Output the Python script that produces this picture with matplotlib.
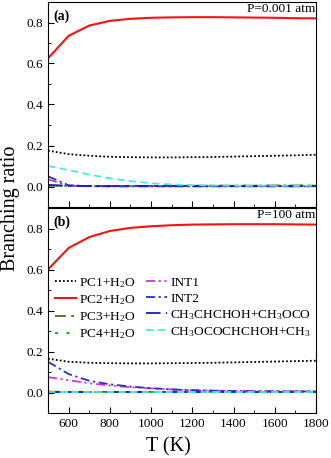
import numpy as np
import matplotlib
matplotlib.use("Agg")
import matplotlib.pyplot as plt
from matplotlib.ticker import MultipleLocator

plt.rcParams['font.family'] = ['Liberation Serif', 'DejaVu Serif']
plt.rcParams['mathtext.fontset'] = 'custom'
plt.rcParams['mathtext.rm'] = 'Liberation Serif'

T = [500, 600, 700, 800, 900, 1000, 1100, 1200, 1300, 1400, 1500, 1600, 1700, 1800]

# panel (a) P = 0.001 atm
a_pc1 = [0.175, 0.158, 0.150, 0.145, 0.143, 0.142, 0.142, 0.143, 0.144, 0.146, 0.148, 0.150, 0.152, 0.155]
a_pc2 = [0.625, 0.735, 0.785, 0.808, 0.818, 0.823, 0.825, 0.826, 0.826, 0.825, 0.824, 0.823, 0.821, 0.820]
a_pc3 = [0.004, 0.003, 0.003, 0.003, 0.003, 0.003, 0.003, 0.003, 0.004, 0.004, 0.004, 0.005, 0.005, 0.005]
a_pc4 = [0.003, 0.003, 0.002, 0.002, 0.002, 0.002, 0.003, 0.003, 0.003, 0.003, 0.004, 0.004, 0.004, 0.004]
a_int1 = [0.035, 0.004, 0.002, 0.001, 0.001, 0.001, 0.001, 0.001, 0.001, 0.001, 0.001, 0.001, 0.001, 0.001]
a_int2 = [0.050, 0.006, 0.002, 0.001, 0.001, 0.001, 0.001, 0.001, 0.001, 0.001, 0.001, 0.001, 0.001, 0.001]
a_ch3chchoh = [0.008, 0.003, 0.002, 0.002, 0.003, 0.003, 0.003, 0.003, 0.003, 0.003, 0.003, 0.003, 0.003, 0.003]
a_ch3ococh = [0.100, 0.080, 0.058, 0.040, 0.026, 0.016, 0.010, 0.007, 0.005, 0.004, 0.004, 0.004, 0.004, 0.004]

# panel (b) P = 100 atm
b_pc1 = [0.165, 0.150, 0.145, 0.143, 0.142, 0.142, 0.143, 0.144, 0.145, 0.147, 0.149, 0.151, 0.153, 0.155]
b_pc2 = [0.600, 0.705, 0.758, 0.788, 0.803, 0.811, 0.816, 0.819, 0.820, 0.821, 0.821, 0.821, 0.820, 0.819]
b_pc3 = [0.004, 0.003, 0.003, 0.003, 0.003, 0.003, 0.003, 0.004, 0.004, 0.004, 0.005, 0.005, 0.005, 0.005]
b_pc4 = [0.003, 0.003, 0.002, 0.002, 0.002, 0.003, 0.003, 0.003, 0.003, 0.003, 0.004, 0.004, 0.004, 0.004]
b_int1 = [0.075, 0.060, 0.045, 0.034, 0.026, 0.020, 0.015, 0.011, 0.009, 0.007, 0.006, 0.005, 0.005, 0.004]
b_int2 = [0.150, 0.090, 0.057, 0.040, 0.029, 0.021, 0.015, 0.011, 0.009, 0.007, 0.006, 0.005, 0.005, 0.005]
b_ch3chchoh = [0.002, 0.002, 0.002, 0.002, 0.002, 0.002, 0.002, 0.002, 0.002, 0.002, 0.002, 0.002, 0.002, 0.002]
b_ch3ococh = [0.001, 0.001, 0.001, 0.001, 0.001, 0.001, 0.001, 0.001, 0.001, 0.001, 0.001, 0.001, 0.001, 0.001]

h2o = r'H$\mathregular{_2}$O'
ch3 = r'CH$\mathregular{_3}$'
labels = ['PC1+' + h2o, 'PC2+' + h2o, 'PC3+' + h2o, 'PC4+' + h2o, 'INT1', 'INT2',
          ch3 + 'CHCHOH+' + ch3 + 'OCO', ch3 + 'OCOCHCHOH+' + ch3]

styles = [
    dict(color='black', ls=(0, (1, 1.2)), lw=1.3),
    dict(color='#ff1010', ls='-', lw=1.5),
    dict(color='#4a6a1a', ls=(0, (6, 3, 1.5, 3)), lw=1.3),
    dict(color='#22bb22', ls=(0, (1.5, 4)), lw=1.5),
    dict(color='#cc33dd', ls=(0, (5, 2, 1.2, 2, 1.2, 2)), lw=1.3),
    dict(color='#2233cc', ls=(0, (5, 2, 1.2, 2)), lw=1.3),
    dict(color='#1a1acc', ls=(0, (8, 3, 2, 3)), lw=1.3),
    dict(color='#44eedd', ls=(0, (4, 2.5)), lw=1.3),
]

panel_a = [a_pc1, a_pc2, a_pc3, a_pc4, a_int1, a_int2, a_ch3chchoh, a_ch3ococh]
panel_b = [b_pc1, b_pc2, b_pc3, b_pc4, b_int1, b_int2, b_ch3chchoh, b_ch3ococh]

fig = plt.figure(figsize=(3.31, 4.58), dpi=100)
ax1 = fig.add_axes([48 / 331, 1 - 207 / 458, 268 / 331, 205 / 458])
ax2 = fig.add_axes([48 / 331, 1 - 413 / 458, 268 / 331, 205 / 458])

for ax, data, tag, pres in [(ax1, panel_a, '(a)', 'P=0.001 atm'), (ax2, panel_b, '(b)', 'P=100 atm')]:
    for ys, lab, st in zip(data, labels, styles):
        ax.plot(T, ys, label=lab, **st)
    ax.set_xlim(500, 1800)
    ax.set_ylim(-0.1, 0.9)
    ax.xaxis.set_major_locator(MultipleLocator(200))
    ax.xaxis.set_minor_locator(MultipleLocator(100))
    ax.yaxis.set_major_locator(MultipleLocator(0.2))
    ax.yaxis.set_minor_locator(MultipleLocator(0.1))
    ax.tick_params(which='both', direction='in', labelsize=9.5)
    ax.tick_params(which='major', length=4)
    ax.tick_params(which='minor', length=2)
    ax.text(0.02, 0.965, tag, transform=ax.transAxes, fontsize=10, fontweight='bold', va='top')
    ax.text(0.998, 0.997, pres, transform=ax.transAxes, fontsize=9.6, ha='right', va='top')
    for s in ax.spines.values():
        s.set_linewidth(0.8)

ax1.tick_params(labelbottom=False)
ax2.set_xlabel('T (K)', fontsize=14.5)
ax2.xaxis.set_label_coords(0.45, -0.12)
fig.text(11 / 331, 1 - 208 / 458, 'Branching ratio', rotation=90, fontsize=14.5, ha='center', va='center')

fig.legend(*ax2.get_legend_handles_labels(), ncol=2, loc='upper left',
           bbox_to_anchor=(55 / 331, 1 - 276 / 458), frameon=False, fontsize=9.6,
           handlelength=1.6, handletextpad=0.2, columnspacing=0.8, labelspacing=0.25,
           borderaxespad=0, borderpad=0)

fig.savefig('out.png', dpi=100)
